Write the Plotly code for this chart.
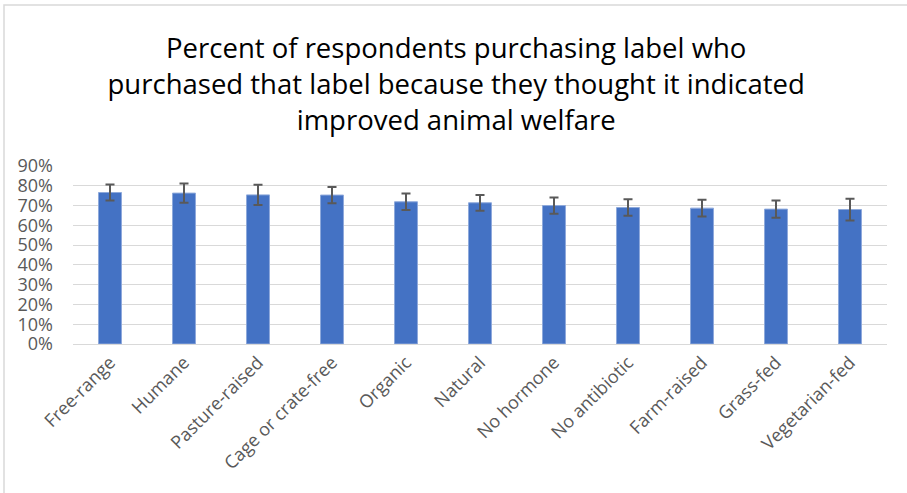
import plotly.graph_objects as go

categories = ["Free-range", "Humane", "Pasture-raised", "Cage or crate-free", "Organic",
              "Natural", "No hormone", "No antibiotic", "Farm-raised", "Grass-fed", "Vegetarian-fed"]
values = [0.766, 0.763, 0.754, 0.753, 0.719, 0.714, 0.700, 0.690, 0.687, 0.682, 0.680]
errors = [0.040, 0.049, 0.051, 0.041, 0.042, 0.040, 0.041, 0.042, 0.042, 0.044, 0.055]
y_ticks = [0, 0.1, 0.2, 0.3, 0.4, 0.5, 0.6, 0.7, 0.8, 0.9]
y_tick_labels = ["0%", "10%", "20%", "30%", "40%", "50%", "60%", "70%", "80%", "90%"]
title_text = ("Percent of respondents purchasing label who<br>"
              "purchased that label because they thought it indicated<br>"
              "improved animal welfare")

fig = go.Figure()
fig.add_trace(go.Bar(
    x=categories, y=values,
    marker=dict(color="#4472C4", line=dict(color="#8EA9DB", width=1)),
    error_y=dict(type="data", array=errors, visible=True, color="#595959",
                 thickness=2, width=4.5),
))

W, H = 907, 493
l, r, t, b = 73, 20, 166, 149

fig.update_layout(
    width=W, height=H,
    margin=dict(l=l, r=r, t=t, b=b, autoexpand=False),
    paper_bgcolor="white", plot_bgcolor="white",
    bargap=0.69,
    showlegend=False,
    font=dict(family="Open Sans", color="#595959"),
    title=dict(text=title_text, x=0.503, xanchor="center", xref="container",
               y=1 - 58 / H, yanchor="top", yref="container",
               font=dict(family="Open Sans", size=27.5, color="#000000")),
    xaxis=dict(tickangle=-45, tickfont=dict(size=18, color="#595959"),
               showgrid=False, showline=True, linecolor="#D9D9D9", linewidth=1,
               ticks="", automargin=False),
    yaxis=dict(range=[0, 0.9], tickvals=y_ticks, ticktext=y_tick_labels,
               tickfont=dict(size=18, color="#595959"),
               showgrid=True, gridcolor="#D9D9D9", gridwidth=1,
               zeroline=False, showline=False, ticks="", ticklabelstandoff=19,
               automargin=False),
    shapes=[dict(type="rect", xref="paper", yref="paper",
                 x0=(4 - l) / (W - l - r), x1=(W + 10 - l) / (W - l - r),
                 y0=-(b + 10) / (H - t - b), y1=1 + (t - 5) / (H - t - b),
                 line=dict(color="#D9D9D9", width=1.5), layer="below")],
)

fig.write_html("out.html",
               config={"displayModeBar": False},
               post_script="document.body.style.margin='0';document.body.style.overflow='hidden';")
